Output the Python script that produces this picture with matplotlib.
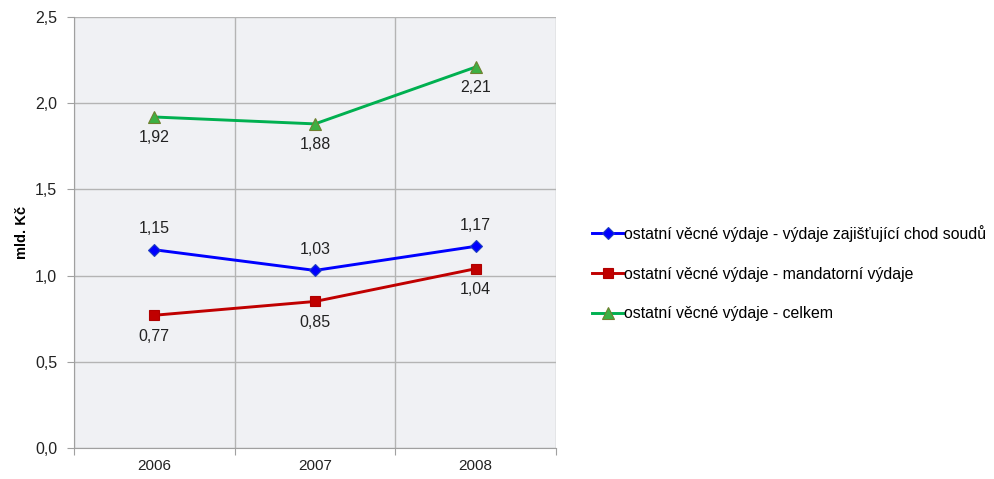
import numpy as np
import matplotlib
matplotlib.use('Agg')
import matplotlib.pyplot as plt

plt.rcParams['font.family'] = ['Liberation Sans', 'DejaVu Sans']

years = ['2006', '2007', '2008']
chod_soudu = [1.15, 1.03, 1.17]
mandatorni = [0.77, 0.85, 1.04]
celkem = [1.92, 1.88, 2.21]

labels = ['ostatní věcné výdaje - výdaje zajišťující chod soudů',
          'ostatní věcné výdaje - mandatorní výdaje',
          'ostatní věcné výdaje - celkem']

fig = plt.figure(figsize=(9.94, 4.79), dpi=100)
ax = fig.add_axes([0.0744, 0.0647, 0.4850, 0.8998])
ax.set_facecolor('#f0f1f4')

x = np.arange(len(years)) + 0.5

series = [
    (chod_soudu, '#0000ff', 'D', '#2040c0', 6, 1),
    (mandatorni, '#c00000', 's', '#b00000', 6.5, -1),
    (celkem, '#00b050', '^', '#708030', 8.5, -1),
]
for (vals, col, mk, ec, ms, side), lab in zip(series, labels):
    ax.plot(x, vals, color=col, lw=2.1, marker=mk, markersize=ms,
            markerfacecolor=col if mk != '^' else '#3cb043',
            markeredgecolor=ec, markeredgewidth=0.8, label=lab)
    for xi, v in zip(x, vals):
        ax.annotate(('%.2f' % v).replace('.', ','), (xi, v),
                    xytext=(0, 15 * side), textcoords='offset points',
                    ha='center', va='center', fontsize=11.5, color='#222222')

ax.set_xlim(0, 3)
ax.set_ylim(0, 2.5)
ax.set_yticks(np.arange(0, 2.51, 0.5))
ax.set_yticklabels([('%.1f' % t).replace('.', ',') for t in np.arange(0, 2.51, 0.5)])
ax.set_xticks([0, 1, 2, 3])
ax.set_xticklabels([])
ax.set_xticks(x, minor=True)
ax.set_xticklabels(years, minor=True)
ax.tick_params(axis='x', which='minor', length=0, pad=8, labelsize=11, colors='#222222')
ax.tick_params(axis='x', which='major', length=5, color='#a0a0a0')
ax.tick_params(axis='y', length=5, color='#a0a0a0', labelsize=11.5, labelcolor='#222222', pad=7)
ax.grid(True, which='major', color='#b4b4b4', lw=1)
ax.set_axisbelow(True)
for s in ['top', 'right']:
    ax.spines[s].set_visible(False)
for s in ['left', 'bottom']:
    ax.spines[s].set_color('#a0a0a0')

ax.set_ylabel('mld. Kč', fontsize=10.5, fontweight='bold', va='center')
ax.yaxis.set_label_coords(-0.108, 0.5)

fig.legend(loc='center left', bbox_to_anchor=(0.589, 0.43), frameon=False,
           fontsize=11.4, handlelength=2.0, handletextpad=0.05, labelspacing=1.55,
           borderaxespad=0)

fig.savefig('out.png', dpi=100)
